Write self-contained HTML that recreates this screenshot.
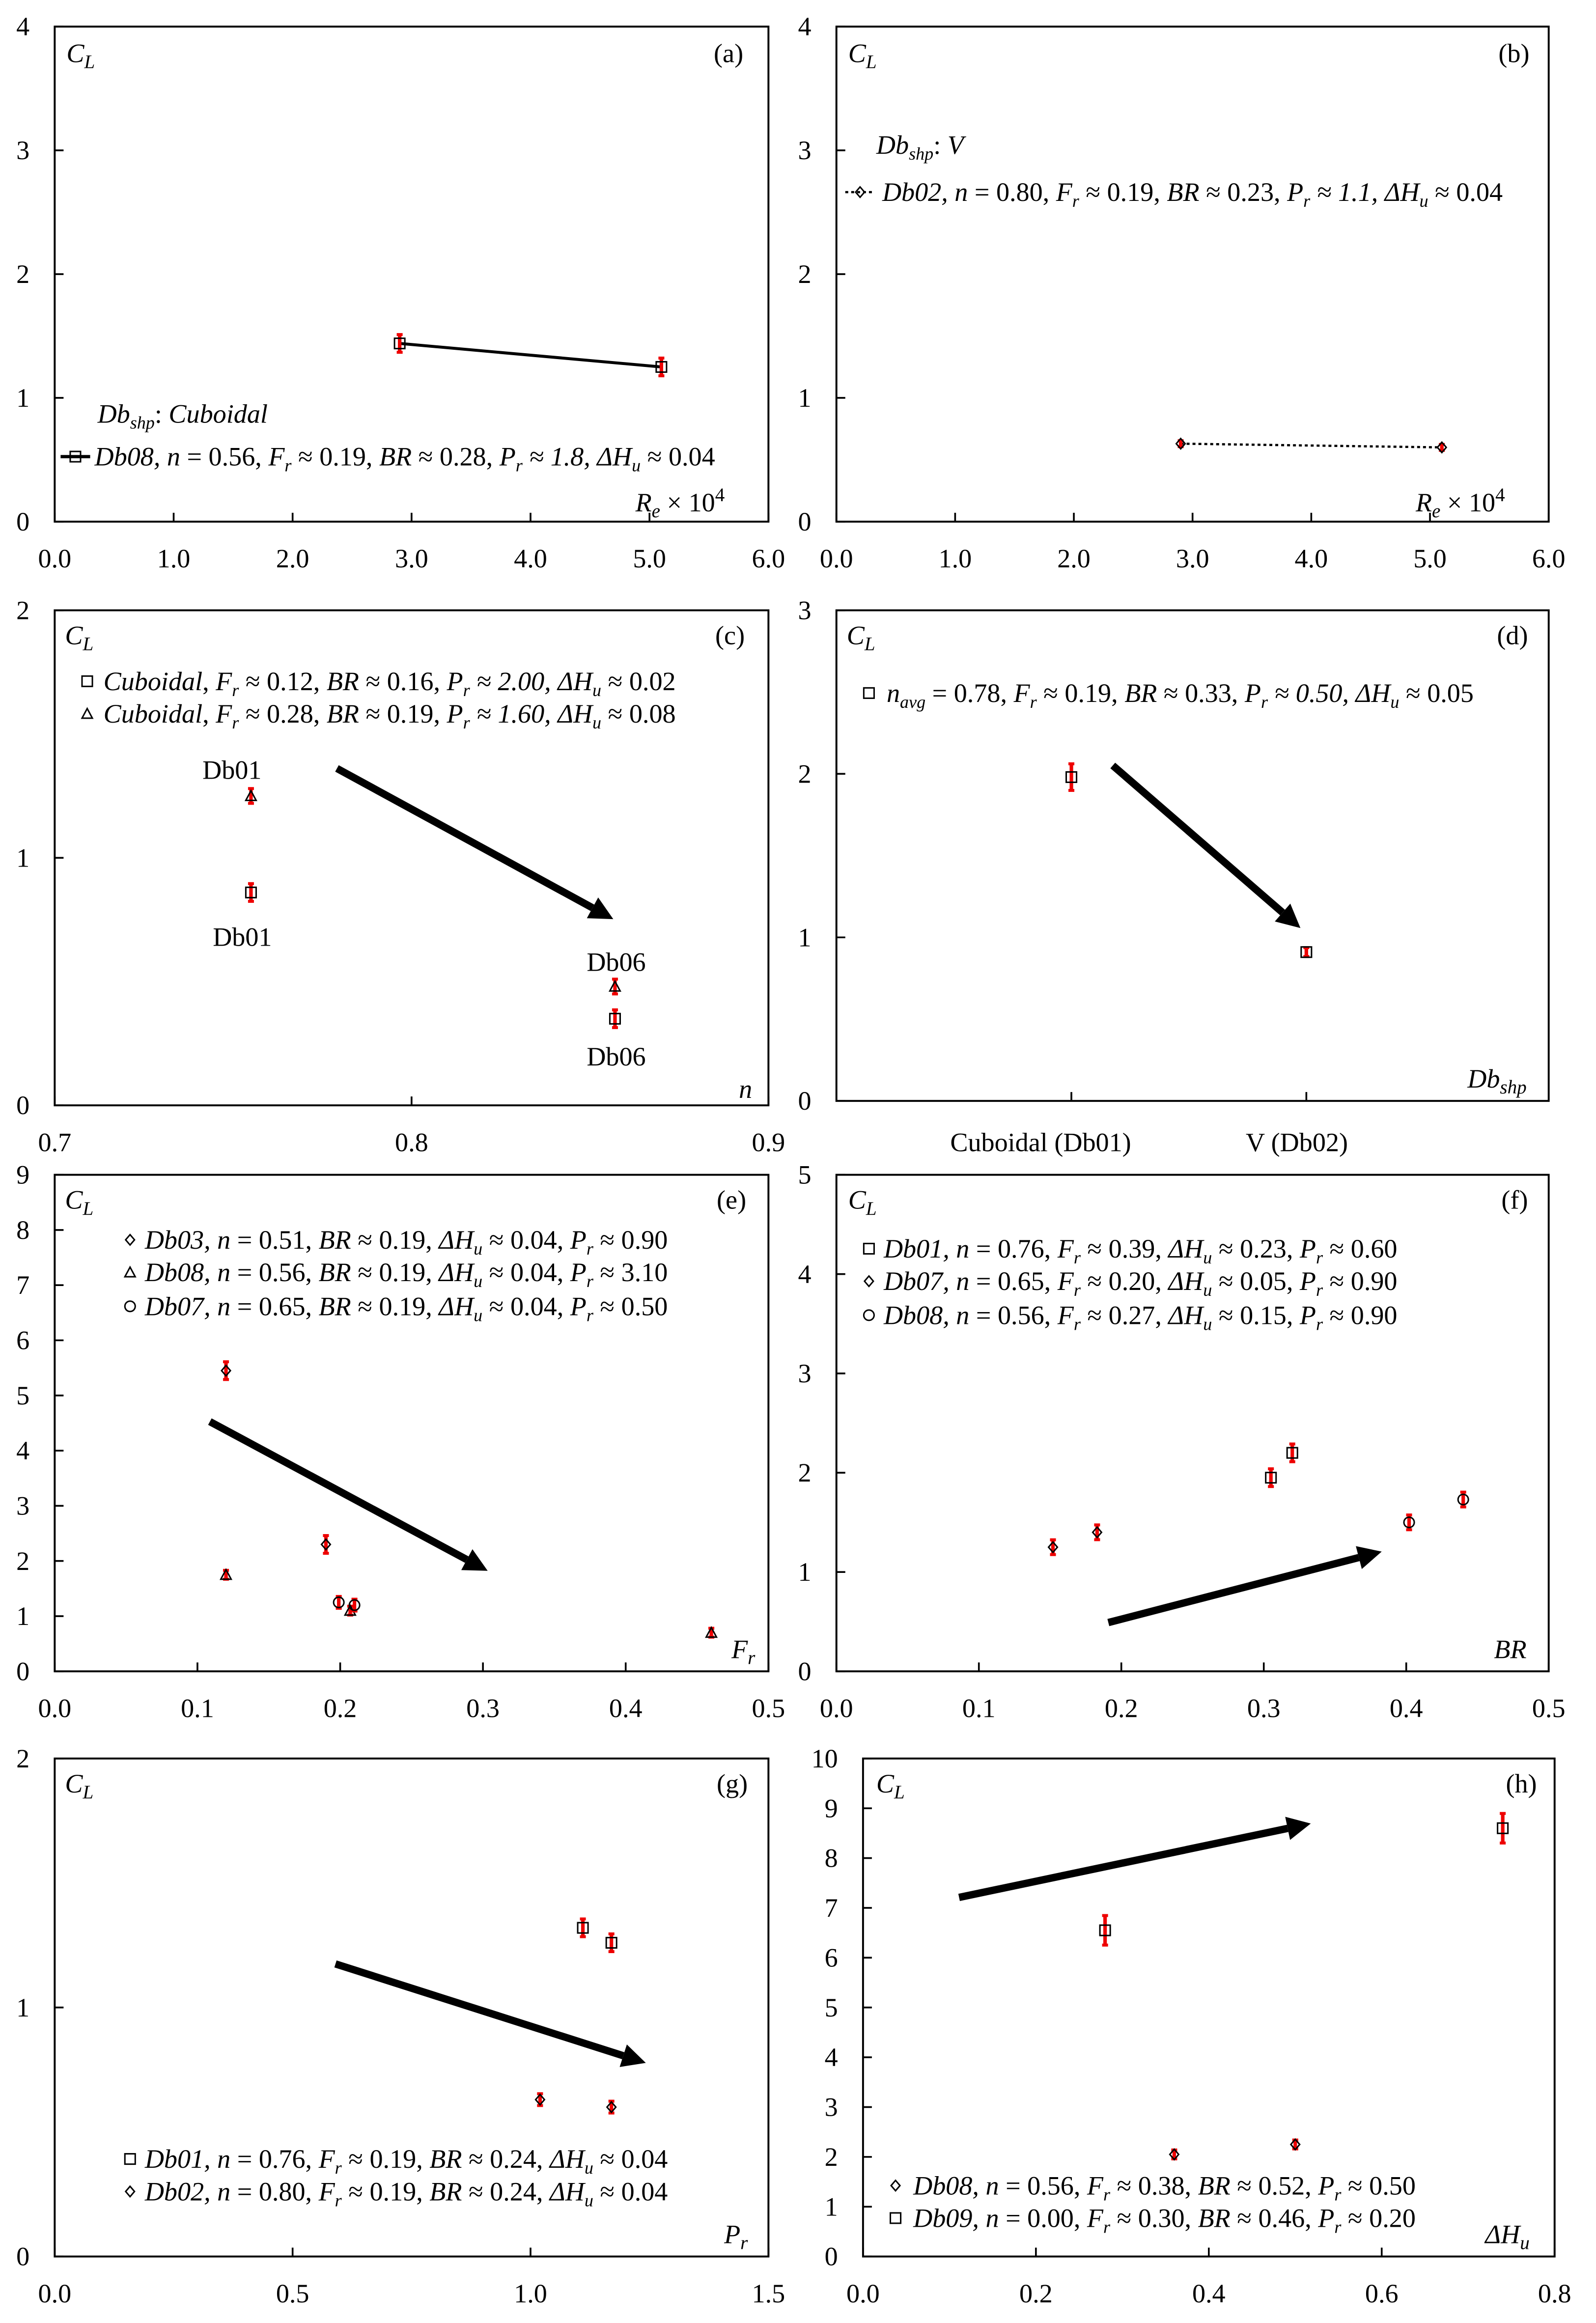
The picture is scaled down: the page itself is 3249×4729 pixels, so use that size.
<!DOCTYPE html>
<html><head><meta charset="utf-8"><style>
html,body{margin:0;padding:0;background:#fff}
svg{display:block}
text{font-family:"Liberation Serif",serif;fill:#000}
.tk{font-size:18px}
.lg{font-size:18px;font-style:italic}
.up{font-style:normal}
</style></head><body>
<svg id="fig" width="3249" height="4729" viewBox="0 0 1080 1572" xmlns="http://www.w3.org/2000/svg">
<g id="marks"></g>
<g id="ticks"></g>
<g>
<text class="lg" x="45" y="42" font-size="19">C<tspan dy="4" font-size="13">L</tspan></text>
<text class="tk" x="483" y="42">(a)</text>
<text class="lg" x="66" y="286">Db<tspan dy="4" font-size="12">shp</tspan><tspan dy="-4" class="up">: </tspan>Cuboidal</text>
<text class="lg" x="64" y="315">Db08, n <tspan class="up">= 0.56, </tspan>F<tspan dy="4" font-size="12">r</tspan><tspan dy="-4" class="up"> ≈ 0.19, </tspan>BR<tspan class="up"> ≈ 0.28, </tspan>P<tspan dy="4" font-size="12">r</tspan><tspan dy="-4"> ≈ 1.8, ΔH</tspan><tspan dy="4" font-size="12">u</tspan><tspan dy="-4" class="up"> ≈ 0.04</tspan></text>
<text class="lg" x="430" y="346" font-size="19">R<tspan dy="4" font-size="13">e</tspan><tspan dy="-4" class="up"> × 10</tspan><tspan dy="-7" font-size="13" class="up">4</tspan></text>
</g>
<g>
<text class="lg" x="574" y="42" font-size="19">C<tspan dy="4" font-size="13">L</tspan></text>
<text class="tk" x="1014" y="42">(b)</text>
<text class="lg" x="593" y="104">Db<tspan dy="4" font-size="12">shp</tspan><tspan dy="-4" class="up">: </tspan>V</text>
<text class="lg" x="597" y="136">Db02, n <tspan class="up">= 0.80, </tspan>F<tspan dy="4" font-size="12">r</tspan><tspan dy="-4" class="up"> ≈ 0.19, </tspan>BR<tspan class="up"> ≈ 0.23, </tspan>P<tspan dy="4" font-size="12">r</tspan><tspan dy="-4"> ≈ 1.1, ΔH</tspan><tspan dy="4" font-size="12">u</tspan><tspan dy="-4" class="up"> ≈ 0.04</tspan></text>
<text class="lg" x="958" y="346" font-size="19">R<tspan dy="4" font-size="13">e</tspan><tspan dy="-4" class="up"> × 10</tspan><tspan dy="-7" font-size="13" class="up">4</tspan></text>
</g>
<g>
<text class="lg" x="44" y="436" font-size="19">C<tspan dy="4" font-size="13">L</tspan></text>
<text class="tk" x="484" y="436">(c)</text>
<text class="lg" x="70" y="467">Cuboidal<tspan class="up">, </tspan>F<tspan dy="4" font-size="12">r</tspan><tspan dy="-4" class="up"> ≈ 0.12, </tspan>BR<tspan class="up"> ≈ 0.16, </tspan>P<tspan dy="4" font-size="12">r</tspan><tspan dy="-4"> ≈ 2.00, ΔH</tspan><tspan dy="4" font-size="12">u</tspan><tspan dy="-4" class="up"> ≈ 0.02</tspan></text>
<text class="lg" x="70" y="489">Cuboidal<tspan class="up">, </tspan>F<tspan dy="4" font-size="12">r</tspan><tspan dy="-4" class="up"> ≈ 0.28, </tspan>BR<tspan class="up"> ≈ 0.19, </tspan>P<tspan dy="4" font-size="12">r</tspan><tspan dy="-4"> ≈ 1.60, ΔH</tspan><tspan dy="4" font-size="12">u</tspan><tspan dy="-4" class="up"> ≈ 0.08</tspan></text>
<text class="tk" x="137" y="527">Db01</text>
<text class="tk" x="144" y="640">Db01</text>
<text class="tk" x="397" y="657">Db06</text>
<text class="tk" x="397" y="721">Db06</text>
<text class="lg" x="500" y="743">n</text>
</g>
<g>
<text class="lg" x="573" y="436" font-size="19">C<tspan dy="4" font-size="13">L</tspan></text>
<text class="tk" x="1013" y="436">(d)</text>
<text class="lg" x="600" y="475">n<tspan dy="4" font-size="12">avg</tspan><tspan dy="-4" class="up"> = 0.78, </tspan>F<tspan dy="4" font-size="12">r</tspan><tspan dy="-4" class="up"> ≈ 0.19, </tspan>BR<tspan class="up"> ≈ 0.33, </tspan>P<tspan dy="4" font-size="12">r</tspan><tspan dy="-4"> ≈ 0.50, ΔH</tspan><tspan dy="4" font-size="12">u</tspan><tspan dy="-4" class="up"> ≈ 0.05</tspan></text>
<text class="lg" x="993" y="736" font-size="19">Db<tspan dy="4" font-size="13">shp</tspan></text>
<text class="tk" x="643" y="779">Cuboidal (Db01)</text>
<text class="tk" x="843" y="779">V (Db02)</text>
</g>
<g>
<text class="lg" x="44" y="818" font-size="19">C<tspan dy="4" font-size="13">L</tspan></text>
<text class="tk" x="485" y="818">(e)</text>
<text class="lg" x="98" y="845">Db03, n <tspan class="up">= 0.51, </tspan>BR<tspan class="up"> ≈ 0.19, </tspan>ΔH<tspan dy="4" font-size="12">u</tspan><tspan dy="-4" class="up"> ≈ 0.04, </tspan>P<tspan dy="4" font-size="12">r</tspan><tspan dy="-4" class="up"> ≈ 0.90</tspan></text>
<text class="lg" x="98" y="867">Db08, n <tspan class="up">= 0.56, </tspan>BR<tspan class="up"> ≈ 0.19, </tspan>ΔH<tspan dy="4" font-size="12">u</tspan><tspan dy="-4" class="up"> ≈ 0.04, </tspan>P<tspan dy="4" font-size="12">r</tspan><tspan dy="-4" class="up"> ≈ 3.10</tspan></text>
<text class="lg" x="98" y="890">Db07, n <tspan class="up">= 0.65, </tspan>BR<tspan class="up"> ≈ 0.19, </tspan>ΔH<tspan dy="4" font-size="12">u</tspan><tspan dy="-4" class="up"> ≈ 0.04, </tspan>P<tspan dy="4" font-size="12">r</tspan><tspan dy="-4" class="up"> ≈ 0.50</tspan></text>
<text class="lg" x="495" y="1122" font-size="19">F<tspan dy="4" font-size="13">r</tspan></text>
</g>
<g>
<text class="lg" x="574" y="818" font-size="19">C<tspan dy="4" font-size="13">L</tspan></text>
<text class="tk" x="1016" y="818">(f)</text>
<text class="lg" x="598" y="851">Db01, n <tspan class="up">= 0.76, </tspan>F<tspan dy="4" font-size="12">r</tspan><tspan dy="-4" class="up"> ≈ 0.39, </tspan>ΔH<tspan dy="4" font-size="12">u</tspan><tspan dy="-4" class="up"> ≈ 0.23, </tspan>P<tspan dy="4" font-size="12">r</tspan><tspan dy="-4" class="up"> ≈ 0.60</tspan></text>
<text class="lg" x="598" y="873">Db07, n <tspan class="up">= 0.65, </tspan>F<tspan dy="4" font-size="12">r</tspan><tspan dy="-4" class="up"> ≈ 0.20, </tspan>ΔH<tspan dy="4" font-size="12">u</tspan><tspan dy="-4" class="up"> ≈ 0.05, </tspan>P<tspan dy="4" font-size="12">r</tspan><tspan dy="-4" class="up"> ≈ 0.90</tspan></text>
<text class="lg" x="598" y="896">Db08, n <tspan class="up">= 0.56, </tspan>F<tspan dy="4" font-size="12">r</tspan><tspan dy="-4" class="up"> ≈ 0.27, </tspan>ΔH<tspan dy="4" font-size="12">u</tspan><tspan dy="-4" class="up"> ≈ 0.15, </tspan>P<tspan dy="4" font-size="12">r</tspan><tspan dy="-4" class="up"> ≈ 0.90</tspan></text>
<text class="lg" x="1011" y="1122" font-size="19">BR</text>
</g>
<g>
<text class="lg" x="44" y="1213" font-size="19">C<tspan dy="4" font-size="13">L</tspan></text>
<text class="tk" x="485" y="1213">(g)</text>
<text class="lg" x="98" y="1467">Db01, n <tspan class="up">= 0.76, </tspan>F<tspan dy="4" font-size="12">r</tspan><tspan dy="-4" class="up"> ≈ 0.19, </tspan>BR<tspan class="up"> ≈ 0.24, </tspan>ΔH<tspan dy="4" font-size="12">u</tspan><tspan dy="-4" class="up"> ≈ 0.04</tspan></text>
<text class="lg" x="98" y="1489">Db02, n <tspan class="up">= 0.80, </tspan>F<tspan dy="4" font-size="12">r</tspan><tspan dy="-4" class="up"> ≈ 0.19, </tspan>BR<tspan class="up"> ≈ 0.24, </tspan>ΔH<tspan dy="4" font-size="12">u</tspan><tspan dy="-4" class="up"> ≈ 0.04</tspan></text>
<text class="lg" x="490" y="1518" font-size="19">P<tspan dy="4" font-size="13">r</tspan></text>
</g>
<g>
<text class="lg" x="593" y="1213" font-size="19">C<tspan dy="4" font-size="13">L</tspan></text>
<text class="tk" x="1019" y="1213">(h)</text>
<text class="lg" x="618" y="1485">Db08, n <tspan class="up">= 0.56, </tspan>F<tspan dy="4" font-size="12">r</tspan><tspan dy="-4" class="up"> ≈ 0.38, </tspan>BR<tspan class="up"> ≈ 0.52, </tspan>P<tspan dy="4" font-size="12">r</tspan><tspan dy="-4" class="up"> ≈ 0.50</tspan></text>
<text class="lg" x="618" y="1507">Db09, n <tspan class="up">= 0.00, </tspan>F<tspan dy="4" font-size="12">r</tspan><tspan dy="-4" class="up"> ≈ 0.30, </tspan>BR<tspan class="up"> ≈ 0.46, </tspan>P<tspan dy="4" font-size="12">r</tspan><tspan dy="-4" class="up"> ≈ 0.20</tspan></text>
<text class="lg" x="1005" y="1518" font-size="19">ΔH<tspan dy="4" font-size="13">u</tspan></text>
</g>
</svg>
<script>
// ---- data ----
const aX=[2.9,5.1], aY=[1.44,1.25];
const bX=[2.9,5.1], bY=[0.63,0.60];
const cTriX=[0.755,0.857], cTriY=[1.25,0.48];
const cSqX=[0.755,0.857], cSqY=[0.86,0.35];
const dCats=["Cuboidal (Db01)","V (Db02)"], dY=[1.98,0.91];
const eDiaX=[0.12,0.19], eDiaY=[5.45,2.3];
const eTriX=[0.12,0.207,0.46], eTriY=[1.75,1.1,0.7];
const eCirX=[0.199,0.21], eCirY=[1.25,1.2];
const fSqX=[0.305,0.32], fSqY=[1.95,2.2];
const fDiaX=[0.152,0.183], fDiaY=[1.25,1.4];
const fCirX=[0.402,0.44], fCirY=[1.5,1.73];
const gSqX=[1.11,1.17], gSqY=[1.32,1.26];
const gDiaX=[1.02,1.17], gDiaY=[0.63,0.6];
const hSqX=[0.28,0.74], hSqY=[6.55,8.6];
const hDiaX=[0.36,0.5], hDiaY=[2.05,2.25];
const aXT=["0.0","1.0","2.0","3.0","4.0","5.0","6.0"], aYT=["0","1","2","3","4"];
const cXT=["0.7","0.8","0.9"], cYT=["0","1","2"];
const dYT=["0","1","2","3"];
const eXT=["0.0","0.1","0.2","0.3","0.4","0.5"], eYT=["0","1","2","3","4","5","6","7","8","9"];
const fYT=["0","1","2","3","4","5"];
const gXT=["0.0","0.5","1.0","1.5"];
const hXT=["0.0","0.2","0.4","0.6","0.8"], hYT=["0","1","2","3","4","5","6","7","8","9","10"];

const NS="http://www.w3.org/2000/svg";
const M=document.getElementById('marks'), T=document.getElementById('ticks');
function el(tag,at,p){const e=document.createElementNS(NS,tag);for(const k in at)e.setAttribute(k,at[k]);(p||M).appendChild(e);return e;}
function panel(name,L,R,Tp,B,x0,x1,y0,y1,xt,yt,xlabY,ylabX){
  const P={L,R,T:Tp,B,x:v=>L+(v-x0)/(x1-x0)*(R-L),y:v=>B-(v-y0)/(y1-y0)*(B-Tp)};
  const f=el('rect',{x:L,y:Tp,width:R-L,height:B-Tp,fill:'none',stroke:'#000','stroke-width':1.3});
  
  
  if(xt){xt.forEach(s=>{const v=parseFloat(s),px=P.x(v);
    el('line',{x1:px,x2:px,y1:B,y2:B-6,stroke:'#000','stroke-width':1.2});
    const t=el('text',{x:px,y:xlabY,'text-anchor':'middle',class:'tk'},T);t.textContent=s;
    
    });}
  yt.forEach(s=>{const v=parseFloat(s),py=P.y(v);
    el('line',{x1:L,x2:L+6,y1:py,y2:py,stroke:'#000','stroke-width':1.2});
    const t=el('text',{x:ylabX,y:py+6,'text-anchor':'end',class:'tk'},T);t.textContent=s;
    
    });
  return P;}
function marker(type,cx,cy,err,name){
  const g=el('g',{});
  
  
  if(err>0){el('line',{x1:cx,x2:cx,y1:cy-err,y2:cy+err,stroke:'#e00','stroke-width':2.4},g);
    el('line',{x1:cx-2,x2:cx+2,y1:cy-err,y2:cy-err,stroke:'#e00','stroke-width':2},g);
    el('line',{x1:cx-2,x2:cx+2,y1:cy+err,y2:cy+err,stroke:'#e00','stroke-width':2},g);}
  const st={fill:'none',stroke:'#000','stroke-width':1};
  if(type=='sq')el('rect',Object.assign({x:cx-3.5,y:cy-3.5,width:7,height:7},st),g);
  if(type=='dia')el('polygon',Object.assign({points:`${cx},${cy-3.5} ${cx+3},${cy} ${cx},${cy+3.5} ${cx-3},${cy}`},st),g);
  if(type=='tri')el('polygon',Object.assign({points:`${cx},${cy-3.5} ${cx+3.5},${cy+3} ${cx-3.5},${cy+3}`},st),g);
  if(type=='cir')el('circle',Object.assign({cx,cy,r:3.5},st),g);}
function series(P,xs,ys,type,err,name){xs.forEach((x,i)=>marker(type,P.x(x),P.y(ys[i]),err,name));}
function arrow(x1,y1,x2,y2,name){
  const a=Math.atan2(y2-y1,x2-x1),hl=16,hw=8;
  const bx=x2-hl*Math.cos(a),by=y2-hl*Math.sin(a);
  const l=el('line',{x1,y1,x2:bx,y2:by,stroke:'#000','stroke-width':5});
  
  
  el('polygon',{points:`${x2},${y2} ${bx-hw*Math.sin(a)},${by+hw*Math.cos(a)} ${bx+hw*Math.sin(a)},${by-hw*Math.cos(a)}`,fill:'#000'});}
function legendLine(x,y,type,dotted){
  el('line',{x1:x,x2:x+20,y1:y,y2:y,stroke:'#000','stroke-width':dotted?1.5:2.2,'stroke-dasharray':dotted?'2,2':'none'});
  marker(type,x+10,y,0,'legend-marker');}
function legendMark(x,y,type){marker(type,x,y,0,'legend-marker');}

const PA=panel('panel-a',37,520,18,353,0,6,0,4,aXT,aYT,384,20);
const la=el('polyline',{points:aX.map((x,i)=>PA.x(x)+','+PA.y(aY[i])).join(' '),fill:'none',stroke:'#000','stroke-width':2});


series(PA,aX,aY,'sq',6,'point-db08');
legendLine(41,309,'sq',false);
const PB=panel('panel-b',566,1048,18,353,0,6,0,4,aXT,aYT,384,549);
const lb=el('polyline',{points:bX.map((x,i)=>PB.x(x)+','+PB.y(bY[i])).join(' '),fill:'none',stroke:'#000','stroke-width':1.5,'stroke-dasharray':'2,2'});


series(PB,bX,bY,'dia',2,'point-db02');
legendLine(572,130,'dia',true);
const PC=panel('panel-c',37,520,413,748,0.7,0.9,0,2,cXT,cYT,779,20);
series(PC,cTriX,cTriY,'tri',5,'point-cuboidal-fr028');
series(PC,cSqX,cSqY,'sq',6,'point-cuboidal-fr012');
legendMark(59,461,'sq');legendMark(59,483,'tri');
arrow(228,520,415,622,'trend-arrow-c');
const PD=panel('panel-d',566,1048,413,745,0,3,0,3,null,dYT,0,549);
const dX=i=>725+i*(884-725);
dCats.forEach((c,i)=>{const px=dX(i);el('line',{x1:px,x2:px,y1:745,y2:739,stroke:'#000','stroke-width':1.2});marker('sq',px,PD.y(dY[i]),i==0?9:3,'point-'+(i?'v':'cuboidal'));});
legendMark(588,469,'sq');
arrow(753,518,880,628,'trend-arrow-d');
const PE=panel('panel-e',37,520,795,1131,0,0.5,0,9,eXT,eYT,1162,20);
series(PE,eDiaX,eDiaY,'dia',6,'point-db03');
series(PE,eTriX,eTriY,'tri',3,'point-db08');
series(PE,eCirX,eCirY,'cir',4,'point-db07');
legendMark(88,839,'dia');legendMark(88,861,'tri');legendMark(88,884,'cir');
arrow(142,962,330,1063,'trend-arrow-e');
const PF=panel('panel-f',566,1048,795,1131,0,0.5,0,5,eXT,fYT,1162,549);
series(PF,fSqX,fSqY,'sq',6,'point-db01');
series(PF,fDiaX,fDiaY,'dia',5,'point-db07');
series(PF,fCirX,fCirY,'cir',5,'point-db08');
legendMark(588,845,'sq');legendMark(588,867,'dia');legendMark(588,890,'cir');
arrow(750,1098,935,1050,'trend-arrow-f');
const PG=panel('panel-g',37,520,1190,1527,0,1.5,0,2,gXT,cYT,1558,20);
series(PG,gSqX,gSqY,'sq',6,'point-db01');
series(PG,gDiaX,gDiaY,'dia',4,'point-db02');
legendMark(88,1461,'sq');legendMark(88,1483,'dia');
arrow(227,1329,437,1396,'trend-arrow-g');
const PH=panel('panel-h',584,1052,1190,1527,0,0.8,0,10,hXT,hYT,1558,567);
series(PH,hSqX,hSqY,'sq',10,'point-db09');
series(PH,hDiaX,hDiaY,'dia',3,'point-db08');
legendMark(606,1479,'dia');legendMark(606,1501,'sq');
arrow(649,1284,887,1234,'trend-arrow-h');
</script>
</body></html>
